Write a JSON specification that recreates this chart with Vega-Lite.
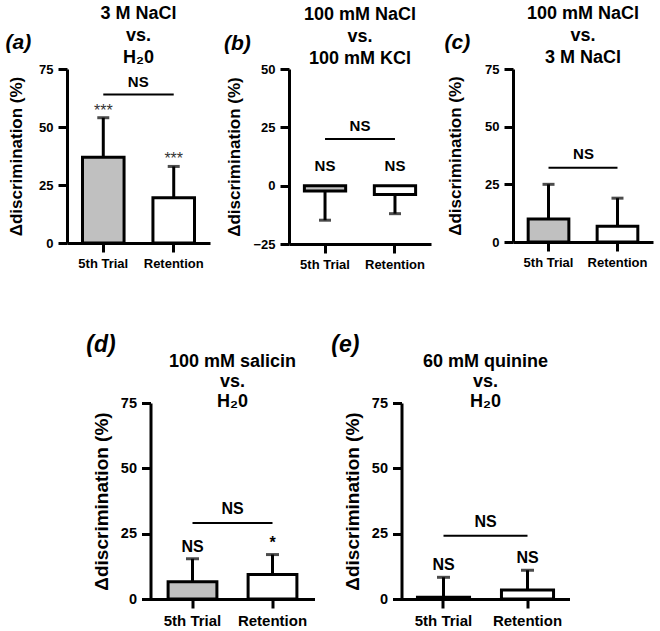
{
  "$schema": "https://vega.github.io/schema/vega-lite/v6.json",
  "config": {
    "font": "Liberation Sans",
    "view": {"stroke": null},
    "axis": {"grid": false, "domainColor": "black", "domainWidth": 3, "tickColor": "black", "tickWidth": 3, "tickSize": 9, "labelColor": "black", "labelFontWeight": "bold", "labelFontSize": 13, "titleColor": "black", "titleFontWeight": "bold", "titleFontSize": 17, "labelFont": "Liberation Sans", "titleFont": "Liberation Sans"},
    "axisX": {"labelAngle": 0, "labelPadding": 5, "labelFontSize": 13},
    "axisY": {"labelPadding": 5, "titlePadding": 13},
    "title": {"font": "Liberation Sans", "fontWeight": "bold", "color": "black"},
    "text": {"font": "Liberation Sans", "color": "black"}
  },
  "datasets": {
    "a": [{"trial": "5th Trial", "value": 37, "err": 54, "sig": "***"}, {"trial": "Retention", "value": 19.5, "err": 33, "sig": "***"}],
    "a_cmp": [{"from": "5th Trial", "to": "Retention", "y": 64, "label": "NS"}],
    "b": [{"trial": "5th Trial", "value": -2.3, "err": -14.8, "sig": "NS"}, {"trial": "Retention", "value": -3.8, "err": -12, "sig": "NS"}],
    "b_cmp": [{"from": "5th Trial", "to": "Retention", "y": 20, "label": "NS"}],
    "c": [{"trial": "5th Trial", "value": 10, "err": 25, "sig": ""}, {"trial": "Retention", "value": 6.8, "err": 19, "sig": ""}],
    "c_cmp": [{"from": "5th Trial", "to": "Retention", "y": 32.2, "label": "NS"}],
    "d": [{"trial": "5th Trial", "value": 6.6, "err": 15.4, "sig": "NS"}, {"trial": "Retention", "value": 9.4, "err": 17, "sig": "*"}],
    "d_cmp": [{"from": "5th Trial", "to": "Retention", "y": 29.1, "label": "NS"}],
    "e": [{"trial": "5th Trial", "value": 0.7, "err": 8.3, "sig": "NS"}, {"trial": "Retention", "value": 3.4, "err": 11, "sig": "NS"}],
    "e_cmp": [{"from": "5th Trial", "to": "Retention", "y": 24.2, "label": "NS"}]
  },
  "spacing": 63,
  "center": true,
  "vconcat": [
    {
      "spacing": 13,
      "hconcat": [
        {
          "title": {"text": "(a)", "anchor": "start", "frame": "bounds", "fontSize": 21, "fontStyle": "italic", "baseline": "bottom", "dy": 73, "dx": -2},
          "vconcat": [{
            "width": 143, "height": 174,
            "title": {"text": ["3 M NaCl", "vs.", "H₂0"], "fontSize": 18, "lineHeight": 22, "offset": -4, "anchor": "middle", "frame": "group"},
            "layer": [
              {"data": {"name": "a"}, "mark": {"type": "bar", "stroke": "black", "strokeWidth": 3},
               "encoding": {
                 "x": {"field": "trial", "type": "nominal", "scale": {"domain": ["5th Trial", "Retention"], "paddingInner": 0.41, "paddingOuter": 0.22}, "axis": {"title": null}},
                 "y": {"field": "value", "type": "quantitative", "scale": {"domain": [0, 75], "nice": false}, "axis": {"values": [0, 25, 50, 75], "title": "Δdiscrimination (%)"}},
                 "fill": {"field": "trial", "type": "nominal", "scale": {"domain": ["5th Trial", "Retention"], "range": ["#c0c0c0", "#ffffff"]}, "legend": null}}},
              {"data": {"name": "a"}, "mark": {"type": "rule", "strokeWidth": 3, "color": "black"},
               "encoding": {"x": {"field": "trial", "type": "nominal"}, "y": {"field": "value", "type": "quantitative"}, "y2": {"field": "err"}}},
              {"data": {"name": "a"}, "mark": {"type": "tick", "thickness": 3, "size": 12, "color": "black"},
               "encoding": {"x": {"field": "trial", "type": "nominal"}, "y": {"field": "err", "type": "quantitative"}}},
              {"data": {"name": "a"}, "mark": {"type": "text", "fontSize": 16, "baseline": "alphabetic", "dy": -2, "color": "#333333"},
               "encoding": {"x": {"field": "trial", "type": "nominal"}, "y": {"field": "err", "type": "quantitative"}, "text": {"field": "sig"}}},
              {"data": {"name": "a_cmp"}, "mark": {"type": "rule", "strokeWidth": 2, "color": "black"},
               "encoding": {"x": {"field": "from", "type": "nominal"}, "x2": {"field": "to"}, "y": {"field": "y", "type": "quantitative"}}},
              {"data": {"name": "a_cmp"}, "mark": {"type": "text", "fontSize": 15, "fontWeight": "bold", "baseline": "alphabetic", "dy": -8, "dx": 35},
               "encoding": {"x": {"field": "from", "type": "nominal"}, "y": {"field": "y", "type": "quantitative"}, "text": {"field": "label"}}}
            ]
          }]
        },
        {
          "title": {"text": "(b)", "anchor": "start", "frame": "bounds", "fontSize": 21, "fontStyle": "italic", "baseline": "bottom", "dy": 73, "dx": -2},
          "vconcat": [{
            "width": 142, "height": 175,
            "title": {"text": ["100 mM NaCl", "vs.", "100 mM KCl"], "fontSize": 18, "lineHeight": 22, "offset": -5, "anchor": "middle", "frame": "group"},
            "layer": [
              {"data": {"name": "b"}, "mark": {"type": "bar", "stroke": "black", "strokeWidth": 3},
               "encoding": {
                 "x": {"field": "trial", "type": "nominal", "scale": {"domain": ["5th Trial", "Retention"], "paddingInner": 0.41, "paddingOuter": 0.22}, "axis": {"title": null}},
                 "y": {"field": "value", "type": "quantitative", "scale": {"domain": [-25, 50], "nice": false}, "axis": {"values": [-25, 0, 25, 50], "title": "Δdiscrimination (%)", "titlePadding": 9}},
                 "fill": {"field": "trial", "type": "nominal", "scale": {"domain": ["5th Trial", "Retention"], "range": ["#c0c0c0", "#ffffff"]}, "legend": null}}},
              {"mark": {"type": "rule", "strokeWidth": 3, "color": "black"}, "encoding": {"y": {"datum": 0}}},
              {"data": {"name": "b"}, "mark": {"type": "rule", "strokeWidth": 3, "color": "black"},
               "encoding": {"x": {"field": "trial", "type": "nominal"}, "y": {"field": "value", "type": "quantitative"}, "y2": {"field": "err"}}},
              {"data": {"name": "b"}, "mark": {"type": "tick", "thickness": 3, "size": 12, "color": "black"},
               "encoding": {"x": {"field": "trial", "type": "nominal"}, "y": {"field": "err", "type": "quantitative"}}},
              {"data": {"name": "b"}, "mark": {"type": "text", "fontSize": 15, "fontWeight": "bold", "baseline": "alphabetic", "dy": -15},
               "encoding": {"x": {"field": "trial", "type": "nominal"}, "y": {"datum": 0}, "text": {"field": "sig"}}},
              {"data": {"name": "b_cmp"}, "mark": {"type": "rule", "strokeWidth": 2, "color": "black"},
               "encoding": {"x": {"field": "from", "type": "nominal"}, "x2": {"field": "to"}, "y": {"field": "y", "type": "quantitative"}}},
              {"data": {"name": "b_cmp"}, "mark": {"type": "text", "fontSize": 15, "fontWeight": "bold", "baseline": "alphabetic", "dy": -8, "dx": 35},
               "encoding": {"x": {"field": "from", "type": "nominal"}, "y": {"field": "y", "type": "quantitative"}, "text": {"field": "label"}}}
            ]
          }]
        },
        {
          "title": {"text": "(c)", "anchor": "start", "frame": "bounds", "fontSize": 21, "fontStyle": "italic", "baseline": "bottom", "dy": 73, "dx": -2},
          "vconcat": [{
            "width": 140, "height": 173,
            "title": {"text": ["100 mM NaCl", "vs.", "3 M NaCl"], "fontSize": 18, "lineHeight": 22, "offset": -4, "anchor": "middle", "frame": "group"},
            "layer": [
              {"data": {"name": "c"}, "mark": {"type": "bar", "stroke": "black", "strokeWidth": 3},
               "encoding": {
                 "x": {"field": "trial", "type": "nominal", "scale": {"domain": ["5th Trial", "Retention"], "paddingInner": 0.41, "paddingOuter": 0.22}, "axis": {"title": null}},
                 "y": {"field": "value", "type": "quantitative", "scale": {"domain": [0, 75], "nice": false}, "axis": {"values": [0, 25, 50, 75], "title": "Δdiscrimination (%)", "titlePadding": 20}},
                 "fill": {"field": "trial", "type": "nominal", "scale": {"domain": ["5th Trial", "Retention"], "range": ["#c0c0c0", "#ffffff"]}, "legend": null}}},
              {"data": {"name": "c"}, "mark": {"type": "rule", "strokeWidth": 3, "color": "black"},
               "encoding": {"x": {"field": "trial", "type": "nominal"}, "y": {"field": "value", "type": "quantitative"}, "y2": {"field": "err"}}},
              {"data": {"name": "c"}, "mark": {"type": "tick", "thickness": 3, "size": 12, "color": "black"},
               "encoding": {"x": {"field": "trial", "type": "nominal"}, "y": {"field": "err", "type": "quantitative"}}},
              {"data": {"name": "c_cmp"}, "mark": {"type": "rule", "strokeWidth": 2, "color": "black"},
               "encoding": {"x": {"field": "from", "type": "nominal"}, "x2": {"field": "to"}, "y": {"field": "y", "type": "quantitative"}}},
              {"data": {"name": "c_cmp"}, "mark": {"type": "text", "fontSize": 15, "fontWeight": "bold", "baseline": "alphabetic", "dy": -9, "dx": 35},
               "encoding": {"x": {"field": "from", "type": "nominal"}, "y": {"field": "y", "type": "quantitative"}, "text": {"field": "label"}}}
            ]
          }]
        }
      ]
    },
    {
      "spacing": 16,
      "hconcat": [
        {
          "title": {"text": "(d)", "anchor": "start", "frame": "bounds", "fontSize": 23, "fontStyle": "italic", "baseline": "bottom", "dy": 31, "dx": -6},
          "vconcat": [{
            "width": 164, "height": 196,
            "title": {"text": ["100 mM salicin", "vs.", "H₂0"], "fontSize": 18, "lineHeight": 20, "offset": -16, "anchor": "middle", "frame": "group"},
            "layer": [
              {"data": {"name": "d"}, "mark": {"type": "bar", "stroke": "black", "strokeWidth": 3},
               "encoding": {
                 "x": {"field": "trial", "type": "nominal", "scale": {"domain": ["5th Trial", "Retention"], "paddingInner": 0.39, "paddingOuter": 0.22}, "axis": {"title": null, "labelFontSize": 15}},
                 "y": {"field": "value", "type": "quantitative", "scale": {"domain": [0, 75], "nice": false}, "axis": {"values": [0, 25, 50, 75], "title": "Δdiscrimination (%)", "labelFontSize": 14.5, "titleFontSize": 19, "titlePadding": 9}},
                 "fill": {"field": "trial", "type": "nominal", "scale": {"domain": ["5th Trial", "Retention"], "range": ["#c0c0c0", "#ffffff"]}, "legend": null}}},
              {"data": {"name": "d"}, "mark": {"type": "rule", "strokeWidth": 3, "color": "black"},
               "encoding": {"x": {"field": "trial", "type": "nominal"}, "y": {"field": "value", "type": "quantitative"}, "y2": {"field": "err"}}},
              {"data": {"name": "d"}, "mark": {"type": "tick", "thickness": 3, "size": 13, "color": "black"},
               "encoding": {"x": {"field": "trial", "type": "nominal"}, "y": {"field": "err", "type": "quantitative"}}},
              {"data": {"name": "d"}, "mark": {"type": "text", "fontSize": 16, "fontWeight": "bold", "baseline": "alphabetic", "dy": -7},
               "encoding": {"x": {"field": "trial", "type": "nominal"}, "y": {"field": "err", "type": "quantitative"}, "text": {"field": "sig"}}},
              {"data": {"name": "d_cmp"}, "mark": {"type": "rule", "strokeWidth": 2, "color": "black"},
               "encoding": {"x": {"field": "from", "type": "nominal"}, "x2": {"field": "to"}, "y": {"field": "y", "type": "quantitative"}}},
              {"data": {"name": "d_cmp"}, "mark": {"type": "text", "fontSize": 16, "fontWeight": "bold", "baseline": "alphabetic", "dy": -9, "dx": 40},
               "encoding": {"x": {"field": "from", "type": "nominal"}, "y": {"field": "y", "type": "quantitative"}, "text": {"field": "label"}}}
            ]
          }]
        },
        {
          "title": {"text": "(e)", "anchor": "start", "frame": "bounds", "fontSize": 23, "fontStyle": "italic", "baseline": "bottom", "dy": 31, "dx": -12},
          "vconcat": [{
            "width": 168, "height": 196,
            "title": {"text": ["60 mM quinine", "vs.", "H₂0"], "fontSize": 18, "lineHeight": 20, "offset": -16, "anchor": "middle", "frame": "group"},
            "layer": [
              {"data": {"name": "e"}, "mark": {"type": "bar", "stroke": "black", "strokeWidth": 3},
               "encoding": {
                 "x": {"field": "trial", "type": "nominal", "scale": {"domain": ["5th Trial", "Retention"], "paddingInner": 0.38, "paddingOuter": 0.19}, "axis": {"title": null, "labelFontSize": 15}},
                 "y": {"field": "value", "type": "quantitative", "scale": {"domain": [0, 75], "nice": false}, "axis": {"values": [0, 25, 50, 75], "title": "Δdiscrimination (%)", "labelFontSize": 14.5, "titleFontSize": 19, "titlePadding": 9}},
                 "fill": {"field": "trial", "type": "nominal", "scale": {"domain": ["5th Trial", "Retention"], "range": ["#c0c0c0", "#ffffff"]}, "legend": null}}},
              {"data": {"name": "e"}, "mark": {"type": "rule", "strokeWidth": 3, "color": "black"},
               "encoding": {"x": {"field": "trial", "type": "nominal"}, "y": {"field": "value", "type": "quantitative"}, "y2": {"field": "err"}}},
              {"data": {"name": "e"}, "mark": {"type": "tick", "thickness": 3, "size": 13, "color": "black"},
               "encoding": {"x": {"field": "trial", "type": "nominal"}, "y": {"field": "err", "type": "quantitative"}}},
              {"data": {"name": "e"}, "mark": {"type": "text", "fontSize": 16, "fontWeight": "bold", "baseline": "alphabetic", "dy": -7},
               "encoding": {"x": {"field": "trial", "type": "nominal"}, "y": {"field": "err", "type": "quantitative"}, "text": {"field": "sig"}}},
              {"data": {"name": "e_cmp"}, "mark": {"type": "rule", "strokeWidth": 2, "color": "black"},
               "encoding": {"x": {"field": "from", "type": "nominal"}, "x2": {"field": "to"}, "y": {"field": "y", "type": "quantitative"}}},
              {"data": {"name": "e_cmp"}, "mark": {"type": "text", "fontSize": 16, "fontWeight": "bold", "baseline": "alphabetic", "dy": -9, "dx": 42},
               "encoding": {"x": {"field": "from", "type": "nominal"}, "y": {"field": "y", "type": "quantitative"}, "text": {"field": "label"}}}
            ]
          }]
        }
      ]
    }
  ]
}
